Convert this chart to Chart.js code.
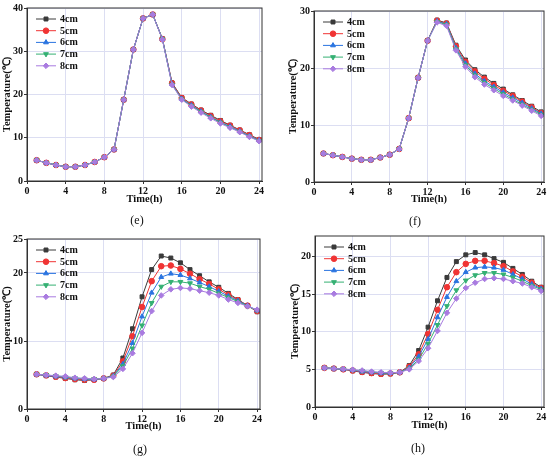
<!DOCTYPE html>
<html>
<head>
<meta charset="utf-8">
<script src="https://cdn.jsdelivr.net/npm/chart.js@4.4.0/dist/chart.umd.min.js"></script>
<style>
  body { margin: 0; background: #fff; }
  #wrap { position: relative; width: 550px; height: 459px; }
  .panel { position: absolute; width: 275px; height: 229px; }
  .cap { position: absolute; font: 12px "Liberation Serif", "Times New Roman", serif; color: #111; transform: translate(-50%, -50%); }
</style>
</head>
<body>
<div id="wrap">
  <div class="panel" style="left:0;top:0"><canvas id="chartE"></canvas></div>
  <div class="panel" style="left:275px;top:0"><canvas id="chartF"></canvas></div>
  <div class="panel" style="left:0;top:229px"><canvas id="chartG"></canvas></div>
  <div class="panel" style="left:275px;top:229px"><canvas id="chartH"></canvas></div>
  <div class="cap" style="left:137px;top:220px">(e)</div>
  <div class="cap" style="left:415px;top:221px">(f)</div>
  <div class="cap" style="left:140px;top:449px">(g)</div>
  <div class="cap" style="left:418px;top:448px">(h)</div>
</div>
<script>
// time of day (h)
const hours = [1, 2, 3, 4, 5, 6, 7, 8, 9, 10, 11, 12, 13, 14, 15, 16, 17, 18, 19, 20, 21, 22, 23, 24];
const depths = ['4cm', '5cm', '6cm', '7cm', '8cm'];
const xTicks = [0, 4, 8, 12, 16, 20, 24];

// (e)
const e4 = [4.8, 4.2, 3.7, 3.3, 3.3, 3.7, 4.4, 5.5, 7.3, 18.8, 30.4, 37.6, 38.5, 32.9, 22.7, 19.3, 17.8, 16.4, 15.2, 14.0, 12.9, 11.8, 10.7, 9.6];
const e5 = [4.8, 4.2, 3.7, 3.3, 3.3, 3.7, 4.4, 5.5, 7.3, 18.8, 30.4, 37.6, 38.5, 32.8, 22.6, 19.2, 17.7, 16.3, 15.0, 13.8, 12.8, 11.7, 10.6, 9.5];
const e6 = [4.8, 4.2, 3.7, 3.3, 3.3, 3.7, 4.4, 5.5, 7.3, 18.8, 30.4, 37.6, 38.5, 32.8, 22.4, 19.0, 17.5, 16.1, 14.8, 13.6, 12.6, 11.5, 10.4, 9.4];
const e7 = [4.8, 4.2, 3.7, 3.3, 3.3, 3.7, 4.4, 5.5, 7.3, 18.8, 30.4, 37.6, 38.5, 32.8, 22.3, 18.9, 17.4, 16.0, 14.7, 13.5, 12.4, 11.4, 10.3, 9.3];
const e8 = [4.8, 4.2, 3.7, 3.3, 3.3, 3.7, 4.4, 5.5, 7.3, 18.8, 30.4, 37.6, 38.5, 32.7, 22.2, 18.8, 17.2, 15.8, 14.5, 13.3, 12.3, 11.3, 10.2, 9.2];
const eTicks = [0, 10, 20, 30, 40];

// (f)
const f4 = [5.0, 4.7, 4.4, 4.1, 3.9, 3.9, 4.3, 4.8, 5.8, 11.2, 18.3, 24.8, 28.4, 27.9, 24.0, 21.4, 19.7, 18.4, 17.3, 16.3, 15.3, 14.3, 13.3, 12.3];
const f5 = [5.0, 4.7, 4.4, 4.1, 3.9, 3.9, 4.3, 4.8, 5.8, 11.2, 18.3, 24.8, 28.3, 27.8, 23.8, 21.1, 19.4, 18.1, 17.0, 16.0, 15.1, 14.1, 13.1, 12.1];
const f6 = [5.0, 4.7, 4.4, 4.1, 3.9, 3.9, 4.3, 4.8, 5.8, 11.2, 18.3, 24.8, 28.2, 27.7, 23.5, 20.8, 19.0, 17.7, 16.7, 15.7, 14.8, 13.9, 12.9, 12.0];
const f7 = [5.0, 4.7, 4.4, 4.1, 3.9, 3.9, 4.3, 4.8, 5.8, 11.2, 18.3, 24.8, 28.1, 27.6, 23.3, 20.5, 18.7, 17.4, 16.4, 15.4, 14.5, 13.6, 12.7, 11.8];
const f8 = [5.0, 4.7, 4.4, 4.1, 3.9, 3.9, 4.3, 4.8, 5.8, 11.2, 18.3, 24.8, 28.0, 27.4, 23.1, 20.2, 18.4, 17.1, 16.1, 15.1, 14.3, 13.4, 12.5, 11.6];
const fTicks = [0, 10, 20, 30];

// (g)
const g4 = [5.1, 4.9, 4.7, 4.5, 4.3, 4.2, 4.3, 4.5, 5.0, 7.5, 11.8, 16.5, 20.5, 22.5, 22.2, 21.5, 20.5, 19.6, 18.7, 17.9, 17.0, 16.1, 15.2, 14.3];
const g5 = [5.1, 4.95, 4.75, 4.55, 4.4, 4.3, 4.3, 4.5, 4.9, 7.0, 10.7, 15.0, 18.8, 21.0, 21.1, 20.6, 19.9, 19.1, 18.4, 17.6, 16.8, 16.0, 15.2, 14.4];
const g6 = [5.1, 4.95, 4.8, 4.65, 4.5, 4.4, 4.35, 4.5, 4.85, 6.6, 9.7, 13.6, 17.1, 19.4, 19.9, 19.7, 19.2, 18.6, 18.0, 17.3, 16.6, 15.9, 15.2, 14.5];
const g7 = [5.1, 5.0, 4.85, 4.7, 4.55, 4.45, 4.4, 4.5, 4.8, 6.3, 8.9, 12.3, 15.6, 18.0, 18.7, 18.7, 18.5, 18.0, 17.6, 17.0, 16.4, 15.8, 15.1, 14.5];
const g8 = [5.1, 5.0, 4.9, 4.8, 4.6, 4.5, 4.4, 4.5, 4.7, 5.9, 8.2, 11.2, 14.4, 16.7, 17.6, 17.8, 17.7, 17.4, 17.1, 16.7, 16.1, 15.6, 15.1, 14.6];
const gTicks = [0, 10, 20, 25];

// (h)
const h4 = [5.2, 5.1, 5.0, 4.8, 4.6, 4.45, 4.35, 4.4, 4.6, 5.5, 7.5, 10.6, 14.1, 17.2, 19.3, 20.2, 20.5, 20.2, 19.7, 19.2, 18.4, 17.6, 16.7, 15.9];
const h5 = [5.2, 5.1, 5.0, 4.85, 4.65, 4.5, 4.4, 4.45, 4.6, 5.35, 7.0, 9.7, 12.9, 15.9, 17.9, 19.0, 19.4, 19.4, 19.1, 18.7, 18.0, 17.3, 16.5, 15.8];
const h6 = [5.2, 5.1, 5.0, 4.9, 4.7, 4.6, 4.5, 4.5, 4.6, 5.2, 6.7, 9.0, 11.9, 14.6, 16.7, 17.9, 18.5, 18.6, 18.5, 18.2, 17.6, 17.0, 16.3, 15.7];
const h7 = [5.2, 5.1, 5.05, 4.9, 4.8, 4.65, 4.55, 4.5, 4.6, 5.1, 6.3, 8.4, 10.9, 13.4, 15.5, 16.8, 17.5, 17.8, 17.8, 17.6, 17.2, 16.7, 16.1, 15.6];
const h8 = [5.2, 5.1, 5.05, 4.95, 4.85, 4.7, 4.6, 4.55, 4.6, 5.0, 6.1, 7.8, 10.1, 12.5, 14.4, 15.8, 16.5, 17.0, 17.1, 17.0, 16.7, 16.4, 15.9, 15.4];
const hTicks = [0, 5, 10, 15, 20];

const colors = ['#3a3a3a', '#f03434', '#2a74e0', '#34b073', '#a97be0'];
const markers = ['rect', 'circle', 'triangle', 'triangle', 'rectRot'];
const rotations = [0, 0, 0, 180, 0];

const serif = '"Liberation Serif", "Times New Roman", serif';

function drawMarker(ctx, style, rotation, x, y, r, color) {
  ctx.fillStyle = color;
  ctx.strokeStyle = color;
  if (Chart.helpers && Chart.helpers.drawPoint) {
    Chart.helpers.drawPoint(ctx, { pointStyle: style, rotation: rotation, radius: r, borderWidth: 1 }, x, y);
    return;
  }
  ctx.beginPath();
  ctx.arc(x, y, r, 0, Math.PI * 2);
  ctx.fill();
}

// legend drawn inside the plot, top left, no box
const plotLegend = {
  id: 'plotLegend',
  afterDatasetsDraw(chart) {
    const { ctx, chartArea } = chart;
    const x0 = chartArea.left + 9;
    let y = chartArea.top + 11;
    ctx.save();
    ctx.font = 'bold 10px ' + serif;
    ctx.textBaseline = 'middle';
    chart.data.datasets.forEach(function (ds) {
      ctx.strokeStyle = ds.borderColor;
      ctx.lineWidth = 1;
      ctx.beginPath();
      ctx.moveTo(x0, y);
      ctx.lineTo(x0 + 20, y);
      ctx.stroke();
      drawMarker(ctx, ds.pointStyle, ds.pointRotation || 0, x0 + 10, y, 2.8, ds.borderColor);
      ctx.fillStyle = '#111';
      ctx.fillText(ds.label, x0 + 24, y + 0.5);
      y += 11.7;
    });
    ctx.restore();
  }
};

// closed frame round the plot
const plotFrame = {
  id: 'plotFrame',
  afterDatasetsDraw(chart) {
    const { ctx, chartArea } = chart;
    ctx.save();
    ctx.strokeStyle = '#333';
    ctx.lineWidth = 1;
    ctx.strokeRect(chartArea.left, chartArea.top, chartArea.right - chartArea.left, chartArea.bottom - chartArea.top);
    ctx.restore();
  }
};

function makeChart(id, series, yMax, yTicks, box) {
  const datasets = series.map(function (vals, i) {
    return {
      label: depths[i],
      data: hours.map(function (h, j) { return { x: h, y: vals[j] }; }),
      borderColor: colors[i],
      backgroundColor: colors[i],
      borderWidth: 1,
      pointStyle: markers[i],
      pointRotation: rotations[i],
      pointRadius: 2.8,
      pointBorderWidth: 1,
      order: 5 - i
    };
  });

  const tickFont = { family: serif, size: 10, weight: 'bold' };
  const titleFont = { family: serif, size: 10.5, weight: 'bold' };

  const config = {
    type: 'line',
    data: { datasets: datasets },
    options: {
      responsive: true,
      maintainAspectRatio: false,
      animation: false,
      layout: {
        padding: { left: 0, top: box.top, right: 275 - box.right, bottom: 0 }
      },
      plugins: {
        legend: { display: false },
        tooltip: { enabled: false }
      },
      scales: {
        x: {
          type: 'linear',
          min: 0,
          max: 24.3,
          afterBuildTicks: function (s) { s.ticks = xTicks.map(function (v) { return { value: v }; }); },
          afterFit: function (s) { s.height = 229 - box.bottom; },
          grid: { color: '#dcdef2', tickColor: '#333', tickLength: 3 },
          border: { color: '#333', width: 1 },
          ticks: { color: '#111', font: tickFont, padding: 1, maxRotation: 0 },
          title: { display: true, text: 'Time(h)', color: '#111', font: titleFont, padding: { top: 0, bottom: box.xTitle } }
        },
        y: {
          min: 0,
          max: yMax,
          afterBuildTicks: function (s) { s.ticks = yTicks.map(function (v) { return { value: v }; }); },
          afterFit: function (s) { s.width = box.left; },
          grid: { color: '#dcdef2', tickColor: '#333', tickLength: 3 },
          border: { color: '#333', width: 1 },
          ticks: { color: '#111', font: tickFont, padding: 1 },
          title: { display: true, text: 'Temperature(℃)', color: '#111', font: titleFont, padding: { top: box.yTitle, bottom: 0 } }
        }
      }
    },
    plugins: [plotFrame, plotLegend]
  };
  return new Chart(document.getElementById(id).getContext('2d'), config);
}

makeChart('chartE', [e4, e5, e6, e7, e8], 40, eTicks, { left: 27, right: 262, top: 8, bottom: 181, xTitle: 23, yTitle: 1 });
makeChart('chartF', [f4, f5, f6, f7, f8], 30, fTicks, { left: 39, right: 269, top: 11, bottom: 182, xTitle: 23, yTitle: 12 });
makeChart('chartG', [g4, g5, g6, g7, g8], 25, gTicks, { left: 27, right: 260, top: 10, bottom: 180, xTitle: 25, yTitle: 1 });
makeChart('chartH', [h4, h5, h6, h7, h8], 22.7, hTicks, { left: 40, right: 269, top: 5, bottom: 178, xTitle: 26, yTitle: 14 });
</script>
</body>
</html>
